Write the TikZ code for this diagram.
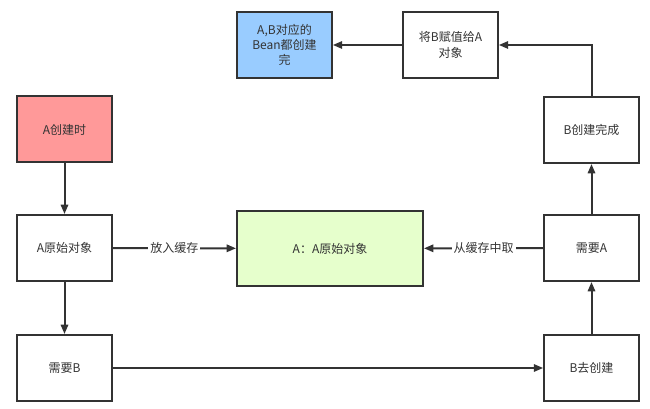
\documentclass[tikz,border=0pt]{standalone}
\usepackage{fontspec}
\setmainfont{Noto Sans CJK SC}
\usepackage{xcolor}
\usetikzlibrary{arrows.meta}
\definecolor{boxline}{RGB}{51,51,51}
\definecolor{textgray}{RGB}{51,51,51}
\definecolor{redfill}{RGB}{255,153,153}
\definecolor{bluefill}{RGB}{153,204,255}
\definecolor{greenfill}{RGB}{230,255,204}
\tikzset{every picture/.style={line width=0.75pt}}
\tikzset{
  box/.style={draw=boxline, line width=1.5pt, fill=white, minimum width=71pt, minimum height=49.5pt,
    inner sep=2pt, align=center, text=textgray, font=\fontsize{9}{11.5}\selectfont},
  link/.style={draw=boxline, line width=1.5pt, -{Triangle[length=7pt,width=5.5pt]}},
  tag/.style={fill=white, inner sep=1.5pt, text=textgray, font=\fontsize{9}{11}\selectfont}
}

\begin{document}
\begin{tikzpicture}[x=0.75pt,y=0.75pt,yscale=-1,xscale=1]
%set diagram left start at 0, and has height of 409
\path[use as bounding box] (0,0) rectangle (650,409);

% left column
\node[box, fill=redfill] (create) at (64.5,129.5) {A创建时};
\node[box] (raw) at (64.5,248) {A原始对象};
\node[box] (needb) at (64.5,368) {需要B};
% cache
\node[box, fill=greenfill, minimum width=139.5pt, minimum height=56pt] (cache) at (330,248.5) {A：A原始对象};
% right column
\node[box] (bdone) at (591.5,130) {B创建完成};
\node[box] (needa) at (591.5,248) {需要A};
\node[box] (bnew) at (591.5,368) {B去创建};
% top row
\node[box] (assign) at (450.5,45) {将B赋值给A\\对象};
\node[box, fill=bluefill] (done) at (284.5,45) {A,B对应的\\Bean都创建\\完};

% connectors
\draw[link] (create) -- (raw);
\draw[link] (raw) -- (needb);
\draw[link] (raw) -- node[tag] {放入缓存} (cache);
\draw[link] (needa) -- node[tag] {从缓存中取} (cache);
\draw[link] (needb) -- (bnew);
\draw[link] (bnew) -- (needa);
\draw[link] (needa) -- (bdone);
\draw[link] (bdone.north) |- (assign.east);
\draw[link] (assign) -- (done);

\end{tikzpicture}
\end{document}
